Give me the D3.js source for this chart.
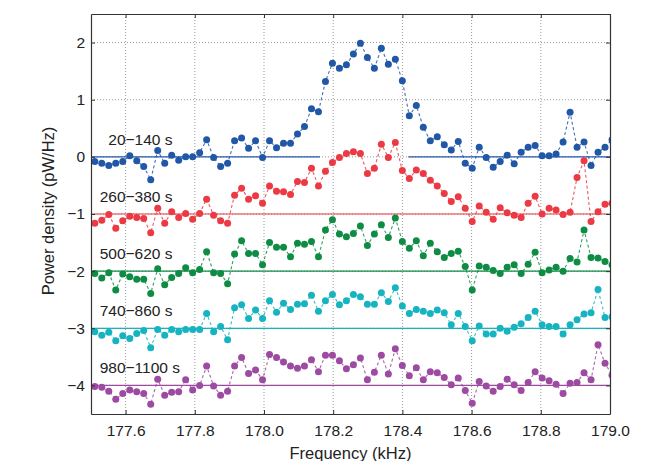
<!DOCTYPE html>
<html>
<head>
<meta charset="utf-8">
<title>Power density spectra</title>
<script src="https://cdn.jsdelivr.net/npm/d3@7"></script>
<style>
  body { margin: 0; background: #fff; }
  text { font-family: "Liberation Sans", Arial, sans-serif; fill: #222; }
  .grid line { stroke: #9a9a9a; stroke-dasharray: 1,2; }
</style>
</head>
<body>
<script>
//////////// data ////////////
// frequency grid of the spectra (kHz)
var freqStart = 177.511, freqStep = 0.0202, nPts = 75;
var freqs = d3.range(nPts).map(function(i){ return freqStart + i*freqStep; });

var labels  = ["20\u2212140 s", "260\u2212380 s", "500\u2212620 s", "740\u2212860 s", "980\u22121100 s"];
var offsets = [0, -1, -2, -3, -4];
var colors  = ["#2157a7", "#ec3a44", "#0e8c44", "#16b4c0", "#9d4aa3"];
var labelX  = [177.55, 177.525, 177.525, 177.525, 177.525];

var blue = [-0.08,-0.11,-0.15,-0.11,-0.08,0.02,-0.07,-0.17,-0.40,0.11,
  -0.11,0.03,-0.06,0.00,0.00,0.07,0.30,-0.01,-0.17,-0.11,
  0.28,0.33,0.15,0.28,-0.01,0.28,0.16,0.24,0.24,0.40,
  0.53,0.84,0.79,1.32,1.64,1.55,1.61,1.80,1.99,1.74,
  1.55,1.90,1.62,1.71,1.33,0.72,0.90,0.52,0.28,0.35,
  0.21,0.12,0.27,-0.11,-0.20,0.17,-0.01,-0.18,-0.08,0.03,
  -0.12,0.08,0.17,0.20,0.02,0.02,0.05,0.26,0.78,0.17,
  0.26,-0.15,0.08,0.17,0.30];
var red = [-0.16,-0.11,-0.01,-0.25,-0.12,-0.04,-0.06,-0.08,-0.33,0.10,
  -0.16,0.04,-0.06,0.01,-0.09,0.01,0.26,-0.02,-0.12,-0.16,
  0.33,0.45,0.26,0.32,0.19,0.49,0.40,0.39,0.34,0.57,
  0.55,0.80,0.49,0.75,0.90,0.99,1.06,1.09,1.06,0.71,
  0.80,1.22,0.99,1.25,0.76,0.62,0.77,0.71,0.59,0.49,
  0.36,0.22,0.30,0.10,-0.13,0.14,0.03,-0.09,0.11,0.02,
  -0.02,-0.06,0.19,0.31,0.00,0.10,0.07,-0.01,0.03,0.64,
  0.93,-0.13,0.04,0.17,0.19];
var green = [-0.04,-0.12,-0.03,-0.33,-0.05,-0.10,-0.14,-0.14,-0.39,0.04,
  -0.24,-0.11,-0.04,0.06,-0.03,0.03,0.34,-0.03,-0.04,-0.22,
  0.30,0.53,0.31,0.31,0.11,0.50,0.42,0.42,0.25,0.49,
  0.47,0.52,0.25,0.72,0.90,0.65,0.60,0.66,0.79,0.45,
  0.65,0.81,0.59,0.93,0.52,0.40,0.53,0.27,0.49,0.34,
  0.24,0.31,0.35,0.08,-0.33,0.09,0.07,0.01,-0.04,0.07,
  0.11,-0.04,0.12,0.33,-0.03,0.02,0.07,0.00,0.22,0.16,
  0.72,0.24,0.23,0.17,0.11];
var cyan = [-0.06,-0.12,-0.07,-0.22,-0.13,-0.18,-0.09,-0.04,-0.34,-0.02,
  -0.12,-0.02,-0.06,-0.02,-0.02,-0.02,0.26,-0.06,0.03,-0.20,
  0.36,0.41,0.17,0.32,0.17,0.48,0.28,0.44,0.33,0.42,
  0.43,0.58,0.30,0.48,0.59,0.41,0.48,0.59,0.55,0.42,
  0.42,0.62,0.47,0.71,0.39,0.26,0.33,0.30,0.26,0.32,
  0.27,0.06,0.26,0.03,-0.22,0.04,-0.10,-0.10,0.00,-0.05,
  0.02,0.08,0.19,0.30,0.06,0.03,0.03,-0.10,0.06,0.15,
  0.25,0.27,0.68,0.19,0.20];
var purple = [-0.02,-0.03,-0.10,-0.24,-0.14,-0.08,-0.11,-0.14,-0.33,0.11,
  -0.17,-0.12,-0.11,0.10,-0.08,0.00,0.34,-0.01,-0.17,-0.10,
  0.34,0.49,0.21,0.27,0.10,0.54,0.49,0.41,0.34,0.30,
  0.34,0.45,0.24,0.53,0.53,0.43,0.29,0.36,0.48,0.10,
  0.23,0.53,0.20,0.64,0.35,0.17,0.31,0.10,0.24,0.22,
  0.14,0.01,0.13,-0.09,-0.31,0.07,-0.01,-0.10,-0.02,0.11,
  0.01,-0.09,0.05,0.24,0.13,0.08,0.02,-0.14,0.04,0.05,
  0.22,0.10,0.71,0.39,0.18];
var allSeries = [blue, red, green, cyan, purple];

// the 0 baseline of the top trace is broken where the other trace runs over it
var baseSegments = [
  [[177.5, 178.162], [178.417, 179.0]],
  [[177.5, 179.0]], [[177.5, 179.0]], [[177.5, 179.0]], [[177.5, 179.0]]
];

var xTicks = [177.6, 177.8, 178.0, 178.2, 178.4, 178.6, 178.8, 179.0];
var yTicks = [2, 1, 0, -1, -2, -3, -4];

//////////// svg ////////////
var W = 662, H = 461;
var mLeft = 91, mRight = 610, mTop = 14, mBottom = 414;

var svg = d3.select("body").append("svg")
    .attr("width", W)
    .attr("height", H);

var x = d3.scaleLinear().domain([177.5, 179.0]).range([mLeft, mRight]);
var y = d3.scaleLinear().domain([-4.5, 2.5]).range([mBottom, mTop]);

svg.append("clipPath").attr("id", "plotclip")
  .append("rect")
    .attr("x", mLeft).attr("y", mTop)
    .attr("width", mRight - mLeft).attr("height", mBottom - mTop);

///// grid
var grid = svg.append("g").attr("class", "grid");
grid.selectAll(".gx").data(xTicks.slice(0, -1)).enter().append("line")
    .attr("x1", function(d){ return x(d); }).attr("x2", function(d){ return x(d); })
    .attr("y1", mTop).attr("y2", mBottom);
grid.selectAll(".gy").data(yTicks).enter().append("line")
    .attr("x1", mLeft).attr("x2", mRight)
    .attr("y1", function(d){ return y(d); }).attr("y2", function(d){ return y(d); });

///// traces
var plot = svg.append("g").attr("clip-path", "url(#plotclip)");

allSeries.forEach(function(vals, s){
  var off = offsets[s];
  var pts = vals.map(function(v, i){ return {f: freqs[i], v: v + off}; });
  var g = plot.append("g");

  // baseline
  g.selectAll(".base").data(baseSegments[s]).enter().append("line")
      .attr("x1", function(d){ return x(d[0]); })
      .attr("x2", function(d){ return x(d[1]); })
      .attr("y1", y(off)).attr("y2", y(off))
      .attr("stroke", colors[s])
      .attr("stroke-width", 1.2);

  var line = d3.line()
      .x(function(d){ return x(d.f); })
      .y(function(d){ return y(d.v); });

  g.append("path")
      .datum(pts)
      .attr("d", line)
      .attr("fill", "none")
      .attr("stroke", colors[s])
      .attr("stroke-width", 1.1)
      .attr("stroke-dasharray", "3,2.5")
      .attr("opacity", 0.85);

  g.selectAll("circle").data(pts).enter().append("circle")
      .attr("cx", function(d){ return x(d.f); })
      .attr("cy", function(d){ return y(d.v); })
      .attr("r", 3.5)
      .attr("fill", colors[s]);
});

///// trace labels
svg.selectAll(".lab").data(labels).enter().append("text")
    .attr("x", function(d, i){ return x(labelX[i]); })
    .attr("y", function(d, i){ return y(offsets[i]) - 12; })
    .attr("font-size", 15.5)
    .text(function(d){ return d; });

///// axes (ticks on all four sides, pointing in)
var tk = 4;
var xAxisB = d3.axisBottom(x).tickValues(xTicks).tickFormat(d3.format(".1f")).tickSizeInner(-tk).tickSizeOuter(0).tickPadding(11);
var xAxisT = d3.axisTop(x).tickValues(xTicks).tickFormat("").tickSizeInner(-tk).tickSizeOuter(0);
var yAxisL = d3.axisLeft(y).tickValues(yTicks).tickFormat(function(d){ return d < 0 ? "\u2212" + Math.abs(d) : d; }).tickSizeInner(-tk).tickSizeOuter(0).tickPadding(6);
var yAxisR = d3.axisRight(y).tickValues(yTicks).tickFormat("").tickSizeInner(-tk).tickSizeOuter(0);

function styleAxis(g){
  g.select(".domain").attr("stroke", "#333").attr("stroke-width", 1.2);
  g.selectAll(".tick line").attr("stroke", "#333");
  g.selectAll(".tick text").attr("font-size", 15.5).attr("fill", "#222")
    .attr("font-family", "Liberation Sans, Arial, sans-serif");
}
svg.append("g").attr("transform", "translate(0," + mBottom + ")").call(xAxisB).call(styleAxis);
svg.append("g").attr("transform", "translate(0," + mTop + ")").call(xAxisT).call(styleAxis);
svg.append("g").attr("transform", "translate(" + mLeft + ",0)").call(yAxisL).call(styleAxis);
svg.append("g").attr("transform", "translate(" + mRight + ",0)").call(yAxisR).call(styleAxis);

///// axis titles
svg.append("text")
    .attr("x", (mLeft + mRight) / 2)
    .attr("y", 459)
    .attr("text-anchor", "middle")
    .attr("font-size", 16.5)
    .text("Frequency (kHz)");

svg.append("text")
    .attr("transform", "translate(54," + ((mTop + mBottom) / 2 - 3) + ") rotate(-90)")
    .attr("text-anchor", "middle")
    .attr("font-size", 16.5)
    .text("Power density (pW/Hz)");
</script>
</body>
</html>
